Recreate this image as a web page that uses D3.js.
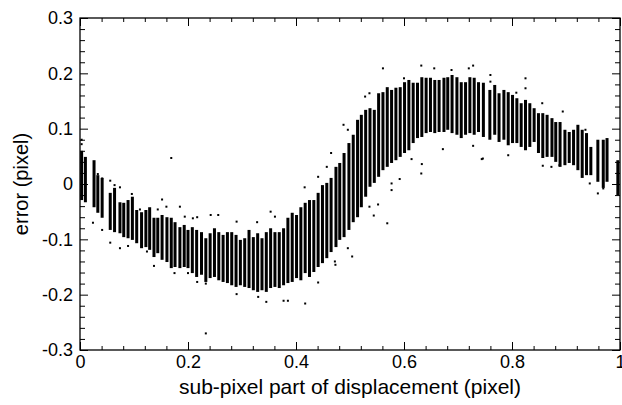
<!DOCTYPE html>
<html>
<head>
<meta charset="utf-8">
<script src="https://cdn.jsdelivr.net/npm/d3@7"></script>
<style>
body { margin: 0; background: #fff; }
text { font-family: "Liberation Sans", Arial, Helvetica, sans-serif; fill: #000; }
</style>
</head>
<body>
<div id="chart"></div>
<script>
// columns of measurements: sub-pixel position and the extent of the dense band
var colX = [0.003, 0.010, 0.026, 0.033, 0.041, 0.056, 0.064, 0.074, 0.081, 0.089, 0.097, 0.105, 0.114, 0.122, 0.129, 0.137, 0.144, 0.152, 0.161, 0.169,
  0.176, 0.185, 0.193, 0.200, 0.208, 0.216, 0.225, 0.233, 0.241, 0.249, 0.257, 0.265, 0.273, 0.281, 0.289, 0.297, 0.305, 0.313, 0.321, 0.329,
  0.337, 0.345, 0.353, 0.361, 0.369, 0.377, 0.385, 0.393, 0.401, 0.409, 0.417, 0.425, 0.433, 0.441, 0.449, 0.457, 0.465, 0.474, 0.481, 0.489,
  0.498, 0.506, 0.514, 0.521, 0.529, 0.537, 0.545, 0.553, 0.561, 0.569, 0.577, 0.585, 0.593, 0.601, 0.609, 0.617, 0.625, 0.633, 0.641, 0.649,
  0.657, 0.665, 0.674, 0.681, 0.689, 0.698, 0.706, 0.714, 0.722, 0.730, 0.738, 0.747, 0.759, 0.768, 0.776, 0.785, 0.793, 0.801, 0.809, 0.817,
  0.825, 0.833, 0.841, 0.849, 0.857, 0.865, 0.874, 0.881, 0.889, 0.898, 0.906, 0.914, 0.922, 0.930, 0.938, 0.946, 0.959, 0.969, 0.976, 0.996];
var colTop = [0.060, 0.049, 0.043, 0.016, 0.011, -0.016, -0.007, -0.033, -0.034, -0.029, -0.023, -0.047, -0.051, -0.047, -0.042, -0.061, -0.061, -0.056, -0.060, -0.061,
  -0.069, -0.078, -0.074, -0.083, -0.078, -0.083, -0.087, -0.098, -0.089, -0.080, -0.087, -0.092, -0.087, -0.087, -0.092, -0.101, -0.098, -0.083, -0.096, -0.089,
  -0.098, -0.087, -0.080, -0.087, -0.087, -0.080, -0.061, -0.052, -0.056, -0.042, -0.034, -0.029, -0.029, -0.016, -0.002, 0.002, 0.011, 0.031, 0.038, 0.056,
  0.074, 0.089, 0.116, 0.125, 0.134, 0.137, 0.134, 0.164, 0.166, 0.175, 0.170, 0.174, 0.175, 0.184, 0.188, 0.183, 0.183, 0.193, 0.192, 0.192,
  0.188, 0.188, 0.192, 0.193, 0.197, 0.193, 0.184, 0.184, 0.193, 0.192, 0.184, 0.183, 0.170, 0.179, 0.164, 0.170, 0.166, 0.161, 0.155, 0.146,
  0.152, 0.146, 0.137, 0.128, 0.128, 0.125, 0.119, 0.112, 0.112, 0.098, 0.094, 0.098, 0.107, 0.098, 0.092, 0.067, 0.080, 0.080, 0.083, 0.043];
var colBottom = [-0.029, -0.033, -0.042, -0.052, -0.061, -0.083, -0.087, -0.089, -0.096, -0.098, -0.101, -0.107, -0.116, -0.114, -0.119, -0.132, -0.125, -0.137, -0.141, -0.152,
  -0.150, -0.152, -0.150, -0.152, -0.161, -0.168, -0.164, -0.177, -0.170, -0.168, -0.174, -0.177, -0.179, -0.183, -0.186, -0.183, -0.186, -0.188, -0.192, -0.195,
  -0.192, -0.195, -0.188, -0.186, -0.188, -0.183, -0.179, -0.177, -0.170, -0.174, -0.161, -0.168, -0.159, -0.150, -0.143, -0.134, -0.123, -0.114, -0.101, -0.096,
  -0.083, -0.069, -0.060, -0.042, -0.023, -0.005, 0.002, 0.013, 0.025, 0.031, 0.038, 0.043, 0.049, 0.056, 0.061, 0.074, 0.083, 0.085, 0.092, 0.094,
  0.092, 0.094, 0.094, 0.098, 0.092, 0.089, 0.083, 0.089, 0.092, 0.089, 0.094, 0.085, 0.080, 0.089, 0.076, 0.080, 0.070, 0.074, 0.074, 0.067,
  0.061, 0.067, 0.076, 0.056, 0.047, 0.049, 0.049, 0.040, 0.031, 0.034, 0.038, 0.034, 0.025, 0.011, 0.016, 0.016, 0.004, -0.007, 0.004, -0.020];

// scattered single measurements outside the dense band
var dotX = [0.003, 0.003, 0.169, 0.233, 0.056, 0.074, 0.024, 0.041, 0.137, 0.152, 0.185, 0.242, 0.217, 0.233, 0.200, 0.175, 0.096, 0.111, 0.033, 0.041,
  0.056, 0.064, 0.074, 0.144, 0.160, 0.194, 0.209, 0.217, 0.124, 0.089, 0.256, 0.290, 0.328, 0.353, 0.361, 0.345, 0.377, 0.385, 0.417, 0.290,
  0.330, 0.441, 0.416, 0.441, 0.465, 0.488, 0.496, 0.473, 0.496, 0.561, 0.632, 0.656, 0.728, 0.720, 0.504, 0.569, 0.544, 0.552, 0.577, 0.592,
  0.632, 0.744, 0.536, 0.614, 0.672, 0.728, 0.528, 0.536, 0.600, 0.688, 0.760, 0.760, 0.825, 0.825, 0.793, 0.857, 0.873, 0.888, 0.944, 0.959,
  0.969, 0.894, 0.856, 0.808, 0.936, 0.746, 0.633, 0.577, 0.457, 0.472];
var dotY = [0.080, 0.072, 0.047, -0.270, -0.106, -0.116, -0.070, -0.083, -0.148, -0.028, -0.041, -0.056, -0.177, -0.180, -0.161, -0.161, -0.018, -0.046, 0.018, 0.010,
  0.006, -0.002, -0.006, -0.046, -0.041, -0.059, -0.062, -0.060, -0.122, -0.112, -0.056, -0.068, -0.069, -0.050, -0.059, -0.213, -0.211, -0.211, -0.216, -0.199,
  -0.204, -0.178, -0.006, 0.013, 0.056, 0.107, 0.098, -0.146, -0.116, 0.209, 0.214, 0.209, 0.214, 0.209, -0.131, -0.071, -0.057, -0.037, -0.011, 0.009,
  0.019, 0.045, -0.041, 0.045, 0.063, 0.069, 0.158, 0.164, 0.191, 0.206, 0.197, 0.185, 0.191, 0.173, 0.052, 0.033, 0.031, 0.034, 0.001, -0.017,
  -0.008, 0.131, 0.146, 0.165, 0.098, 0.046, 0.036, 0.001, 0.031, -0.140];

var xMajor = [0, 0.2, 0.4, 0.6, 0.8, 1];
var xMinor = [0.04, 0.08, 0.12, 0.16, 0.24, 0.28, 0.32, 0.36, 0.44, 0.48, 0.52, 0.56, 0.64, 0.68, 0.72, 0.76, 0.84, 0.88, 0.92, 0.96];
var yMajor = [-0.3, -0.2, -0.1, 0, 0.1, 0.2, 0.3];
var yMinor = [-0.28, -0.26, -0.24, -0.22, -0.18, -0.16, -0.14, -0.12, -0.08, -0.06, -0.04, -0.02,
  0.02, 0.04, 0.06, 0.08, 0.12, 0.14, 0.16, 0.18, 0.22, 0.24, 0.26, 0.28];

var width = 622, height = 405;
var plotLeft = 80, plotRight = 620, plotTop = 18, plotBottom = 350;

var svg = d3.select("#chart").append("svg")
  .attr("width", width)
  .attr("height", height);

var x = d3.scaleLinear().domain([0, 1]).range([plotLeft, plotRight]);
var y = d3.scaleLinear().domain([-0.3, 0.3]).range([plotBottom, plotTop]);

var fmt = function(d) { return d === 0 ? "0" : String(d); };

// dense bands, one per column
var cols = colX.map(function(d, i) { return {x: d, lo: colBottom[i], hi: colTop[i]}; });
svg.append("g").selectAll("rect")
  .data(cols)
  .enter().append("rect")
  .attr("x", function(d) { return x(d.x) - 1.5; })
  .attr("y", function(d) { return y(d.hi); })
  .attr("width", 3)
  .attr("height", function(d) { return y(d.lo) - y(d.hi); })
  .attr("fill", "#000");

// stray points
var dots = dotX.map(function(d, i) { return {x: d, y: dotY[i]}; });
svg.append("g").selectAll("rect")
  .data(dots)
  .enter().append("rect")
  .attr("x", function(d) { return x(d.x) - 1; })
  .attr("y", function(d) { return y(d.y) - 1; })
  .attr("width", 2)
  .attr("height", 2)
  .attr("fill", "#000");

// ticks point inward on all four sides
function ticks(axis, vals, size, labels) {
  var a = axis.tickValues(vals).tickSize(size).tickPadding(8);
  if (labels) a.tickFormat(fmt); else a.tickFormat("");
  return a;
}
var gB = svg.append("g").attr("transform", "translate(0," + plotBottom + ")");
gB.append("g").call(ticks(d3.axisBottom(x), xMajor, -8, true));
gB.append("g").call(ticks(d3.axisBottom(x), xMinor, -4, false));
var gT = svg.append("g").attr("transform", "translate(0," + plotTop + ")");
gT.append("g").call(ticks(d3.axisTop(x), xMajor, -8, false));
gT.append("g").call(ticks(d3.axisTop(x), xMinor, -4, false));
var gL = svg.append("g").attr("transform", "translate(" + plotLeft + ",0)");
gL.append("g").call(ticks(d3.axisLeft(y), yMajor, -8, true));
gL.append("g").call(ticks(d3.axisLeft(y), yMinor, -5, false));
var gR = svg.append("g").attr("transform", "translate(" + plotRight + ",0)");
gR.append("g").call(ticks(d3.axisRight(y), yMajor, -8, false));
gR.append("g").call(ticks(d3.axisRight(y), yMinor, -5, false));

svg.selectAll(".domain").remove();
svg.selectAll(".tick line").attr("stroke", "#000").attr("stroke-width", 1);
svg.selectAll(".tick text").style("font-size", "18px").attr("fill", "#000");
gB.selectAll(".tick text").attr("y", 5).attr("dy", "0.71em");
gL.selectAll(".tick text").attr("x", -7);

svg.append("rect")
  .attr("x", plotLeft).attr("y", plotTop)
  .attr("width", plotRight - plotLeft).attr("height", plotBottom - plotTop)
  .attr("fill", "none").attr("stroke", "#000").attr("stroke-width", 1.3);

svg.append("text")
  .attr("x", (plotLeft + plotRight) / 2)
  .attr("y", 394)
  .attr("text-anchor", "middle")
  .style("font-size", "21px")
  .text("sub-pixel part of displacement (pixel)");

svg.append("text")
  .attr("transform", "translate(28," + ((plotTop + plotBottom) / 2) + ") rotate(-90)")
  .attr("text-anchor", "middle")
  .style("font-size", "20px")
  .text("error (pixel)");
</script>
</body>
</html>
